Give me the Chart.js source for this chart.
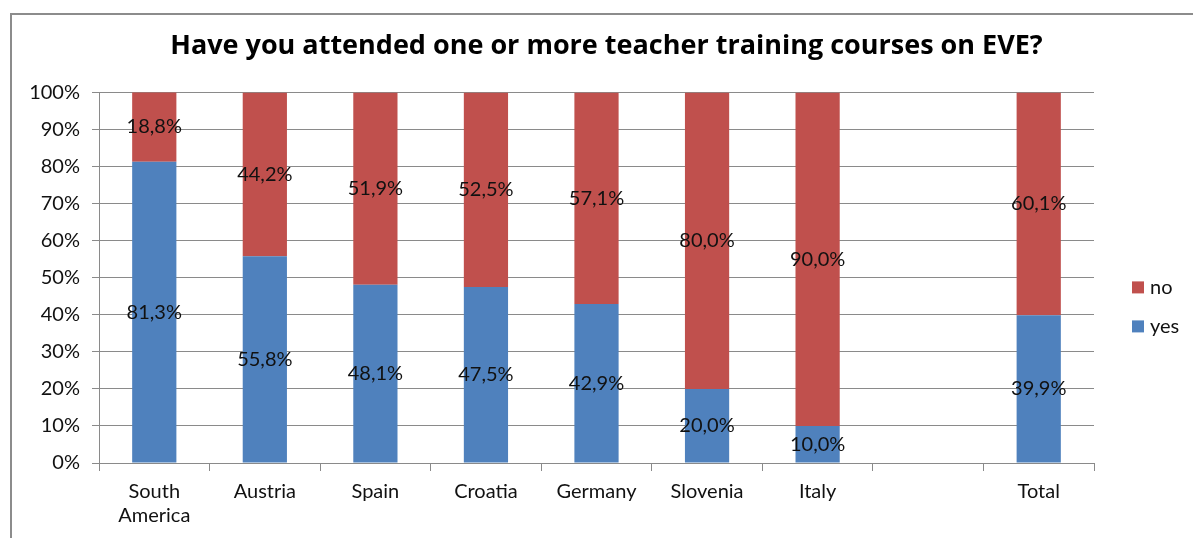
<!DOCTYPE html>
<html>
<head>
<meta charset="utf-8">
<script src="https://cdn.jsdelivr.net/npm/chart.js@4"></script>
<style>
  html, body { margin: 0; padding: 0; background: #fff; }
  #wrap { position: relative; width: 1193px; height: 538px; }
</style>
</head>
<body>
<div id="wrap"><canvas id="chart"></canvas></div>
<script>
let categories = ['South\nAmerica', 'Austria', 'Spain', 'Croatia', 'Germany', 'Slovenia', 'Italy', '', 'Total'];
let yes_values = [81.3, 55.8, 48.1, 47.5, 42.9, 20.0, 10.0, null, 39.9];
let no_values = [18.8, 44.2, 51.9, 52.5, 57.1, 80.0, 90.0, null, 60.1];
let y_ticks = [0, 10, 20, 30, 40, 50, 60, 70, 80, 90, 100];

let FONT = 'Lato, "Open Sans", sans-serif';
let TITLE_FONT = '"Open Sans", Lato, sans-serif';
let GRID = '#8a8a8a';

let fmt = function(v) {
    return v.toFixed(1).replace('.', ',') + '%';
};

// frame round the chart, like the Excel chart border
let frame_plugin = {
    id: 'frame',
    beforeDraw: function(chart) {
        let ctx = chart.ctx;
        ctx.save();
        ctx.strokeStyle = '#8c8c8c';
        ctx.lineWidth = 2;
        ctx.strokeRect(11, 14, chart.width + 20, chart.height + 20);
        ctx.restore();
    }
};

// value labels in the middle of each segment
let labels_plugin = {
    id: 'segLabels',
    afterDatasetsDraw: function(chart) {
        let ctx = chart.ctx;
        ctx.save();
        ctx.font = '20px ' + FONT;
        ctx.fillStyle = '#111';
        ctx.textAlign = 'center';
        ctx.textBaseline = 'middle';
        chart.data.datasets.forEach(function(ds, i) {
            chart.getDatasetMeta(i).data.forEach(function(bar, j) {
                let v = ds.data[j];
                if (v == null) return;
                let y = (bar.y + bar.base) / 2;
                ctx.fillText(fmt(v), bar.x, y);
            });
        });
        ctx.restore();
    }
};

// legend drawn on the right, "no" above "yes"
let legend_plugin = {
    id: 'sideLegend',
    afterDraw: function(chart) {
        let ctx = chart.ctx;
        let area = chart.chartArea;
        let x = area.right + 38;
        let y = area.top + 195;
        ctx.save();
        ctx.font = '20px ' + FONT;
        ctx.textBaseline = 'middle';
        ctx.textAlign = 'left';
        let items = chart.data.datasets.slice().reverse();
        items.forEach(function(ds, i) {
            let cy = y + i * 39;
            ctx.fillStyle = ds.backgroundColor;
            ctx.fillRect(x, cy - 6, 12, 12);
            ctx.fillStyle = '#111';
            ctx.fillText(ds.label, x + 18, cy);
        });
        ctx.restore();
    }
};

let chart = new Chart(document.getElementById('chart'), {
    type: 'bar',
    data: {
        labels: categories.map(function(c) { return c.split('\n'); }),
        datasets: [
            { label: 'yes', data: yes_values, backgroundColor: '#4f81bd', barPercentage: 1, categoryPercentage: 0.4 },
            { label: 'no', data: no_values, backgroundColor: '#c0504d', barPercentage: 1, categoryPercentage: 0.4 }
        ]
    },
    options: {
        responsive: true,
        maintainAspectRatio: false,
        animation: false,
        layout: {
            padding: { left: 20, right: 0, top: 16, bottom: 10 }
        },
        plugins: {
            legend: { display: false },
            tooltip: { enabled: false },
            title: {
                display: true,
                text: 'Have you attended one or more teacher training courses on EVE?',
                color: '#000',
                font: { family: TITLE_FONT, size: 27, weight: 'bold', lineHeight: 1.2 },
                padding: { top: 14, bottom: 30 }
            }
        },
        scales: {
            x: {
                stacked: true,
                grid: { drawOnChartArea: false, drawTicks: true, tickLength: 8, color: GRID },
                border: { display: true, color: GRID },
                ticks: {
                    color: '#111',
                    padding: 9,
                    maxRotation: 0,
                    autoSkip: false,
                    font: { family: FONT, size: 20, lineHeight: 1.2 }
                },
                afterFit: function(scale) { scale.height = 65; }
            },
            y: {
                stacked: true,
                min: 0,
                max: 100,
                afterBuildTicks: function(scale) {
                    scale.ticks = y_ticks.map(function(v) { return { value: v }; });
                },
                grid: { drawTicks: true, tickLength: 7, color: GRID },
                border: { display: true, color: GRID },
                ticks: {
                    color: '#111',
                    padding: 12,
                    font: { family: FONT, size: 20 },
                    callback: function(v) { return v + '%'; }
                },
                afterFit: function(scale) { scale.width = 79; }
            },
            // empty right axis that keeps room for the legend
            yRight: {
                position: 'right',
                min: 0,
                max: 100,
                grid: { display: false },
                border: { display: false },
                ticks: { display: false },
                afterFit: function(scale) { scale.width = 99; }
            }
        }
    },
    plugins: [frame_plugin, labels_plugin, legend_plugin]
});
</script>
</body>
</html>
